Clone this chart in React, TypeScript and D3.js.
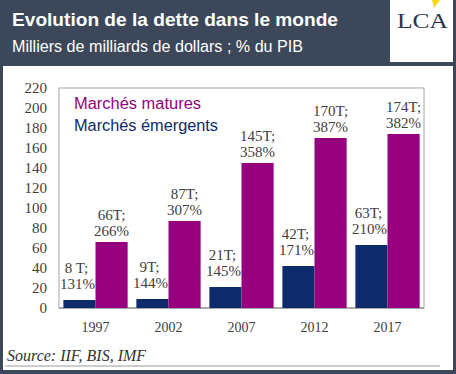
import React from "react";
import * as d3 from "d3";

const years = ["1997", "2002", "2007", "2012", "2017"];
const emerging = [8, 9, 21, 42, 63];
const mature = [66, 87, 145, 170, 174];
const emergingT = ["8 T;", "9T;", "21T;", "42T;", "63T;"];
const emergingPct = ["131%", "144%", "145%", "171%", "210%"];
const matureT = ["66T;", "87T;", "145T;", "170T;", "174T;"];
const maturePct = ["266%", "307%", "358%", "387%", "382%"];
const yTicks = [0, 20, 40, 60, 80, 100, 120, 140, 160, 180, 200, 220];

const W = 456, H = 374;
const BG = "#3c4859";
const PURPLE = "#96007e";
const NAVY = "#0d2a6b";
const serif = "'Liberation Serif', 'DejaVu Serif', serif";
const sans = "'Liberation Sans', Arial, sans-serif";

export default function App() {
  const left = 59, right = 424, top = 88, bottom = 308;
  const x = d3.scaleBand<string>().domain(years).range([left, right]).paddingInner(0.12).paddingOuter(0.06);
  const sub = d3.scaleBand<string>().domain(["e", "m"]).range([0, x.bandwidth()]);
  const y = d3.scaleLinear().domain([0, 220]).range([bottom, top]);

  return (
    <svg width={W} height={H} style={{ position: "absolute", left: 0, top: 0 }}>
      <rect x={0} y={0} width={W} height={H} fill={BG} />
      <text x={12} y={26} fill="#fff" fontFamily={sans} fontWeight="bold" fontSize={19} textLength={326} lengthAdjust="spacingAndGlyphs">
        Evolution de la dette dans le monde
      </text>
      <text x={12} y={52} fill="#fff" fontFamily={sans} fontSize={16} textLength={291} lengthAdjust="spacingAndGlyphs">
        Milliers de milliards de dollars ; % du PIB
      </text>
      {/* logo */}
      <rect x={390} y={0} width={63} height={62} fill="#fff" />
      <path d="M432,0 L440,0 L434,8 Z" fill="#f5d90a" />
      <text x={397} y={28} fill="#2b3550" fontFamily={serif} fontSize={22} textLength={51} lengthAdjust="spacingAndGlyphs">LCA</text>

      {/* panel */}
      <rect x={3} y={66} width={450} height={304} fill="#fff" />

      {/* plot frame */}
      <rect x={left} y={top} width={right - left} height={bottom - top} fill="none" stroke="#a6a6a6" strokeWidth={1} />
      <line x1={left} x2={right} y1={bottom} y2={bottom} stroke="#808080" strokeWidth={1.2} />

      {yTicks.map((t) => (
        <text key={t} x={47} y={y(t) + 5} textAnchor="end" fontFamily={serif} fontSize={15} fill="#404040">
          {t}
        </text>
      ))}

      {years.map((yr, i) => {
        const bx = x(yr)!;
        const ex = bx + sub("e")!;
        const mx = bx + sub("m")!;
        const bw = sub.bandwidth();
        return (
          <g key={yr}>
            <rect x={ex} y={y(emerging[i])} width={bw} height={bottom - y(emerging[i])} fill={NAVY} />
            <rect x={mx} y={y(mature[i])} width={bw} height={bottom - y(mature[i])} fill={PURPLE} />
            <text x={ex + bw / 2 - 3} y={y(emerging[i]) - 27} textAnchor="middle" fontFamily={serif} fontSize={15} fill="#404040">{emergingT[i]}</text>
            <text x={ex + bw / 2 - 2} y={y(emerging[i]) - 11} textAnchor="middle" fontFamily={serif} fontSize={15} fill="#404040">{emergingPct[i]}</text>
            <text x={mx + bw / 2} y={y(mature[i]) - 22} textAnchor="middle" fontFamily={serif} fontSize={15} fill="#404040">{matureT[i]}</text>
            <text x={mx + bw / 2} y={y(mature[i]) - 6} textAnchor="middle" fontFamily={serif} fontSize={15} fill="#404040">{maturePct[i]}</text>
            <text x={bx + x.bandwidth() / 2} y={332} textAnchor="middle" fontFamily={serif} fontSize={14} fill="#404040">{yr}</text>
          </g>
        );
      })}

      <text x={74} y={109} fontFamily={sans} fontSize={16} fill={PURPLE} textLength={127} lengthAdjust="spacingAndGlyphs">Marchés matures</text>
      <text x={74} y={131} fontFamily={sans} fontSize={16} fill={NAVY} textLength={144} lengthAdjust="spacingAndGlyphs">Marchés émergents</text>

      <text x={7} y={361} fontFamily={serif} fontStyle="italic" fontSize={16} fill="#333">Source: IIF, BIS, IMF</text>
      <line x1={5} x2={440} y1={366} y2={366} stroke="#9a9a9a" strokeWidth={1} />
    </svg>
  );
}
